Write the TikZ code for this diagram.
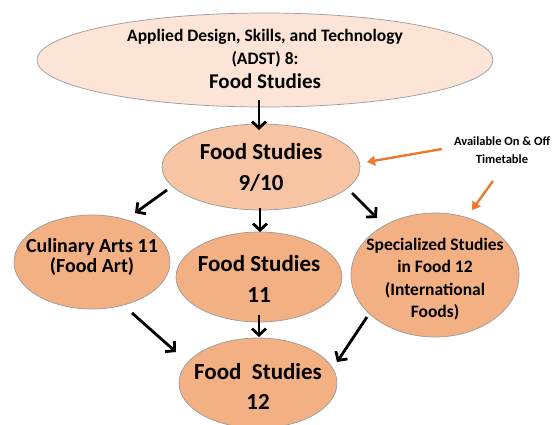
\documentclass[tikz,border=0pt]{standalone}
\usepackage{fontspec}
\setmainfont{Carlito}
\usetikzlibrary{arrows.meta,shapes.geometric}
\definecolor{topfill}{HTML}{FCE4D6}
\definecolor{midfill}{HTML}{F7C5A3}
\definecolor{bubfill}{HTML}{F3B083}
\definecolor{edgegray}{HTML}{9A9A9A}
\definecolor{annorange}{HTML}{EB7A2E}
\tikzset{
  bub/.style={ellipse,draw=edgegray,line width=0.7pt,inner sep=0pt},
  txt/.style={align=center,font=\bfseries,text=black,inner sep=0pt},
  arr/.style={draw=black,line width=2.8pt,-{Straight Barb[length=6.5pt,width=14pt]}},
  oarr/.style={draw=annorange,line width=2.4pt,-{Triangle[length=8pt,width=10pt]}}
}
\begin{document}
\begin{tikzpicture}[x=1pt,y=-1pt]
\useasboundingbox (0,0) rectangle (553,424);
% ellipses
\node[bub,fill=topfill,minimum width=456pt,minimum height=94pt] (top) at (265,60) {};
\node[bub,fill=midfill,minimum width=198pt,minimum height=86pt] (n910) at (261,167) {};
\node[bub,fill=bubfill,minimum width=156pt,minimum height=94pt] (cul) at (92,262) {};
\node[bub,fill=bubfill,minimum width=166pt,minimum height=90pt] (fs11) at (259,277) {};
\node[bub,fill=bubfill,minimum width=168pt,minimum height=124pt] (spec) at (435,275) {};
\node[bub,fill=bubfill,minimum width=158pt,minimum height=90pt] (fs12) at (258,383) {};
% texts
\node[txt,font=\bfseries\fontsize{17.5}{23}\selectfont] (toptxt) at (265,48.5) {Applied Design, Skills, and Technology\\(ADST) 8:};
\node[txt,font=\bfseries\fontsize{21}{24}\selectfont] (toptxt2) at (265,81) {Food Studies};
\node[txt,font=\bfseries\fontsize{23}{31}\selectfont] (n910txt) at (261,167) {Food Studies\\9/10};
\node[txt,font=\bfseries\fontsize{20}{20}\selectfont] (cultxt) at (92,257) {Culinary Arts 11\\(Food Art)};
\node[txt,font=\bfseries\fontsize{23}{31}\selectfont] (fs11txt) at (259,279) {Food Studies\\11};
\node[txt,font=\bfseries\fontsize{17.5}{22.5}\selectfont] (spectxt) at (435,279) {Specialized Studies\\in Food 12\\(International\\Foods)};
\node[txt,font=\bfseries\fontsize{23}{30}\selectfont] (fs12txt) at (258,386) {Food\ \ Studies\\12};
\node[txt,font=\bfseries\fontsize{12.5}{18}\selectfont] (ann) at (502,150) {Available On \& Off\\Timetable};
% black arrows
\draw[arr] ([shift={(-6,40)}]top.center) -- ([shift={(-2,-37)}]n910.center);
\draw[arr] ([shift={(-94,23)}]n910.center) -- ([shift={(43,-49)}]cul.center);
\draw[arr] ([shift={(-1,41)}]n910.center) -- ([shift={(1,-45)}]fs11.center);
\draw[arr] ([shift={(91,26)}]n910.center) -- ([shift={(-58,-57)}]spec.center);
\draw[arr] ([shift={(40,51)}]cul.center) -- ([shift={(-82,-31)}]fs12.center);
\draw[arr] ([shift={(0,38)}]fs11.center) -- ([shift={(1,-46)}]fs12.center);
\draw[arr] ([shift={(-68,42)}]spec.center) -- ([shift={(79,-21)}]fs12.center);
% orange arrows
\draw[oarr] ([shift={(-60,-1)}]ann.center) -- ([shift={(106,-5)}]n910.center);
\draw[oarr] ([shift={(-9,31)}]ann.center) -- ([shift={(37,-65)}]spec.center);
\end{tikzpicture}
\end{document}
